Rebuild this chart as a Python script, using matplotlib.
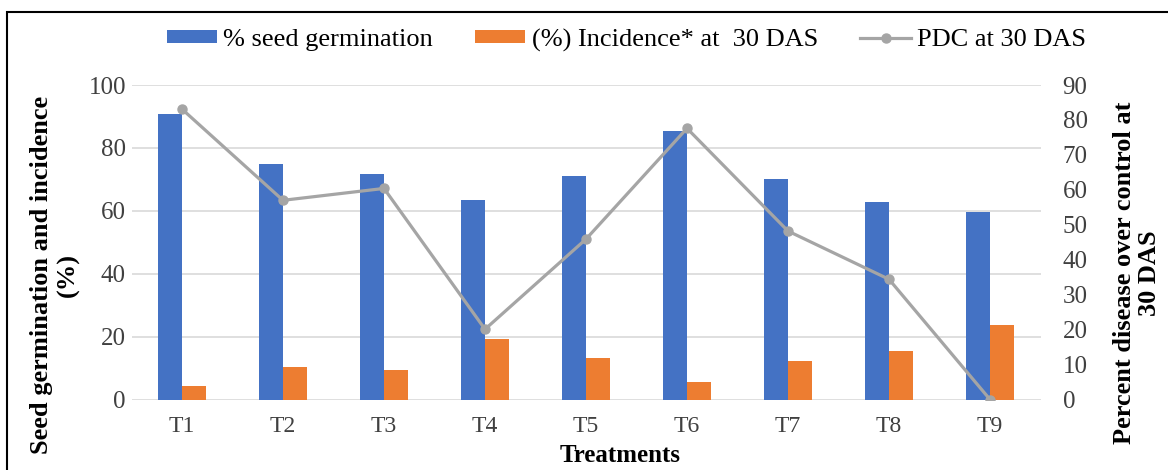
import matplotlib.pyplot as plt
from matplotlib.patches import Rectangle
import numpy as np

plt.rcParams['font.family'] = ['Liberation Serif', 'DejaVu Serif']

# data
treatments = ['T1', 'T2', 'T3', 'T4', 'T5', 'T6', 'T7', 'T8', 'T9']
germination = [90.8, 74.8, 71.6, 63.4, 71.0, 85.3, 70.0, 62.7, 59.5]
incidence = [4.2, 10.3, 9.5, 19.1, 13.2, 5.5, 12.4, 15.4, 23.6]
pdc = [83.1, 57.0, 60.4, 20.1, 45.9, 77.6, 48.2, 34.4, 0.0]

blue = '#4472C4'
orange = '#ED7D31'
grey = '#A5A5A5'
W, H = 1168, 470

fig = plt.figure(figsize=(W / 100, H / 100), dpi=100)
ax = fig.add_axes([131.5 / W, 1 - 399.5 / H, 909 / W, 314.5 / H])
ax2 = ax.twinx()

x = np.arange(len(treatments))
w = 0.24
ax.bar(x - w / 2, germination, width=w, color=blue, label='% seed germination', zorder=2)
ax.bar(x + w / 2, incidence, width=w, color=orange, label='(%) Incidence* at  30 DAS', zorder=2)
ax2.plot(x, pdc, color=grey, lw=2.3, marker='o', ms=6.5, label='PDC at 30 DAS', zorder=3)

ax.set_xlim(-0.5, len(treatments) - 0.5)
ax.set_ylim(0, 100)
ax2.set_ylim(0, 90)
ax.set_yticks(range(0, 101, 20))
ax2.set_yticks(range(0, 91, 10))
ax.set_xticks(x)
ax.set_xticklabels(treatments)

ax.grid(axis='y', color='#D9D9D9', lw=1.2, zorder=0)
ax.set_axisbelow(True)
for a in (ax, ax2):
    for s in a.spines.values():
        s.set_visible(False)
    a.tick_params(length=0, labelsize=18, colors='#404040')
ax.tick_params(axis='y', pad=4)
ax.tick_params(axis='x', pad=12, labelsize=17)
ax2.tick_params(axis='y', pad=16)

fig.text(620 / W, 1 - 456 / H, 'Treatments', fontsize=18, fontweight='bold',
         ha='center', va='center')
fig.text(55 / W, 1 - 275 / H, 'Seed germination and incidence\n(%)', fontsize=19,
         fontweight='bold', rotation=90, ha='center', va='center', multialignment='center',
         linespacing=1.15)
fig.text(1137 / W, 1 - 273 / H, 'Percent disease over control at\n30 DAS', fontsize=19,
         fontweight='bold', rotation=90, ha='center', va='center', multialignment='center',
         linespacing=1.1)

h1, l1 = ax.get_legend_handles_labels()
h2, l2 = ax2.get_legend_handles_labels()
fig.legend(h1 + h2, l1 + l2, loc='center left', bbox_to_anchor=(156 / W, 1 - 40 / H), ncol=3,
           frameon=False, fontsize=19, handlelength=1.9, handleheight=0.4,
           columnspacing=1.6, handletextpad=0.25, borderaxespad=0)

fig.patches.append(Rectangle((7 / W, -0.1), 1.2, 1 - 12 / H + 0.1,
                             transform=fig.transFigure, fill=False, ec='black', lw=1.5))

fig.savefig('out.png', dpi=100)
